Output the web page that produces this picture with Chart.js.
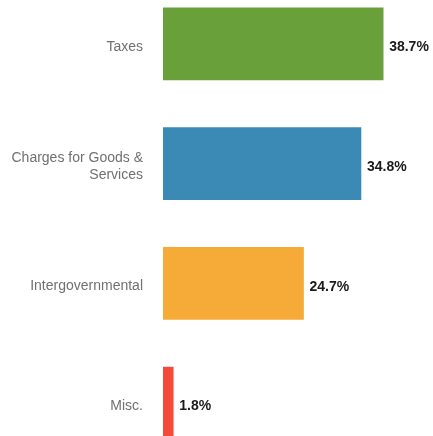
<!DOCTYPE html>
<html>
<head>
<meta charset="utf-8">
<script src="https://cdn.jsdelivr.net/npm/chart.js@4"></script>
<style>
    html, body { margin: 0; padding: 0; background: #fff; overflow: hidden; }
    #wrap { position: absolute; left: 0; top: -16px; width: 433px; height: 479px; }
</style>
</head>
<body>
<div id="wrap"><canvas id="revenueChart"></canvas></div>
<script>
const categories = ['Taxes', ['Charges for Goods &', 'Services'], 'Intergovernmental', 'Misc.'];
const shares = [38.7, 34.8, 24.7, 1.8];
const barColors = ['#69a03a', '#3a8ab5', '#f6ab38', '#f44a3a'];

Chart.defaults.font.family = "'Liberation Sans', Arial, sans-serif";

// draw the percentage just past the end of each bar
const valueLabels = {
    id: 'valueLabels',
    afterDatasetsDraw(chart) {
        const ctx = chart.ctx;
        const meta = chart.getDatasetMeta(0);
        ctx.save();
        ctx.font = "bold 14px 'Liberation Sans', Arial, sans-serif";
        ctx.fillStyle = '#1a1a1a';
        ctx.textAlign = 'left';
        ctx.textBaseline = 'middle';
        meta.data.forEach((bar, i) => {
            ctx.fillText(shares[i].toFixed(1) + '%', bar.x + 6, bar.y + 3.5);
        });
        ctx.restore();
    }
};

new Chart(document.getElementById('revenueChart'), {
    type: 'bar',
    data: {
        labels: categories,
        datasets: [{
            data: shares,
            backgroundColor: barColors,
            borderWidth: 0,
            barThickness: 72
        }]
    },
    options: {
        indexAxis: 'y',
        responsive: true,
        maintainAspectRatio: false,
        animation: false,
        layout: { padding: { top: 0, bottom: 0, left: 0, right: 14 } },
        plugins: {
            legend: { display: false },
            tooltip: { enabled: false }
        },
        scales: {
            x: {
                display: false,
                min: 0,
                max: 45
            },
            y: {
                grid: { display: false, drawTicks: false },
                border: { display: false },
                ticks: {
                    color: '#707070',
                    padding: 20,
                    labelOffset: 3,
                    font: { size: 14, lineHeight: 1.25 }
                },
                afterFit(scale) {
                    scale.width = 163;
                    scale.paddingTop = 0;
                    scale.paddingBottom = 0;
                }
            }
        }
    },
    plugins: [valueLabels]
});
</script>
</body>
</html>
